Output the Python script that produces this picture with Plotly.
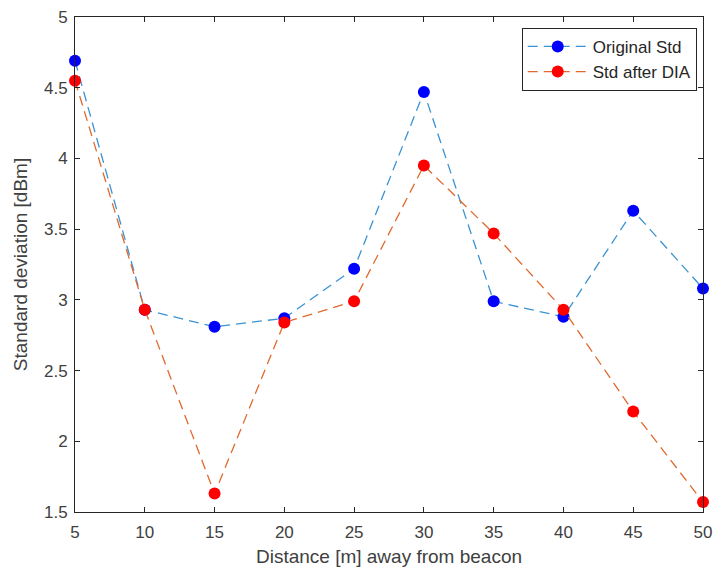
import plotly.graph_objects as go

distance = [5, 10, 15, 20, 25, 30, 35, 40, 45, 50]
original_std = [4.69, 2.93, 2.81, 2.87, 3.22, 4.47, 2.99, 2.88, 3.63, 3.08]
std_after_dia = [4.55, 2.93, 1.63, 2.84, 2.99, 3.95, 3.47, 2.93, 2.21, 1.57]

x_ticks = [5, 10, 15, 20, 25, 30, 35, 40, 45, 50]
y_ticks = [1.5, 2, 2.5, 3, 3.5, 4, 4.5, 5]
y_ticklabels = ["1.5", "2", "2.5", "3", "3.5", "4", "4.5", "5"]

FONT = "Liberation Sans, Arial, sans-serif"

fig = go.Figure()
fig.add_trace(go.Scatter(
    x=distance, y=original_std, name="Original Std", mode="lines+markers",
    line=dict(color="#3a93d3", width=1.3, dash="10px,6px"),
    marker=dict(color="#0000ff", size=12, line=dict(width=0)),
    cliponaxis=False,
))
fig.add_trace(go.Scatter(
    x=distance, y=std_after_dia, name="Std after DIA", mode="lines+markers",
    line=dict(color="#e0692e", width=1.3, dash="10px,6px"),
    marker=dict(color="#ff0000", size=12, line=dict(width=0)),
    cliponaxis=False,
))

axis_common = dict(
    showgrid=False, zeroline=False, showline=True, linecolor="#262626", linewidth=1,
    mirror="ticks", ticks="inside", ticklen=5, tickcolor="#262626",
    tickfont=dict(family=FONT, size=17, color="#404040"),
    automargin=False,
)

fig.update_layout(
    width=713, height=573,
    margin=dict(l=75, r=10, t=17, b=61),
    paper_bgcolor="white", plot_bgcolor="white",
    font=dict(family=FONT, color="#262626"),
    xaxis=dict(range=[5, 50], tickvals=x_ticks, ticklabelstandoff=5,
               title=dict(text="Distance [m] away from beacon", font=dict(size=19, color="#404040"), standoff=8),
               **axis_common),
    yaxis=dict(range=[1.5, 5], tickvals=y_ticks, ticktext=y_ticklabels, ticklabelstandoff=3,
               title=dict(text="Standard deviation [dBm]", font=dict(size=19, color="#404040"), standoff=11),
               **axis_common),
    legend=dict(x=0.99, y=0.978, xanchor="right", yanchor="top",
                bordercolor="#262626", borderwidth=1, bgcolor="white",
                font=dict(size=17, color="#262626"), itemwidth=60,
                tracegroupgap=0),
    showlegend=True,
)

fig.write_html("out.html")
